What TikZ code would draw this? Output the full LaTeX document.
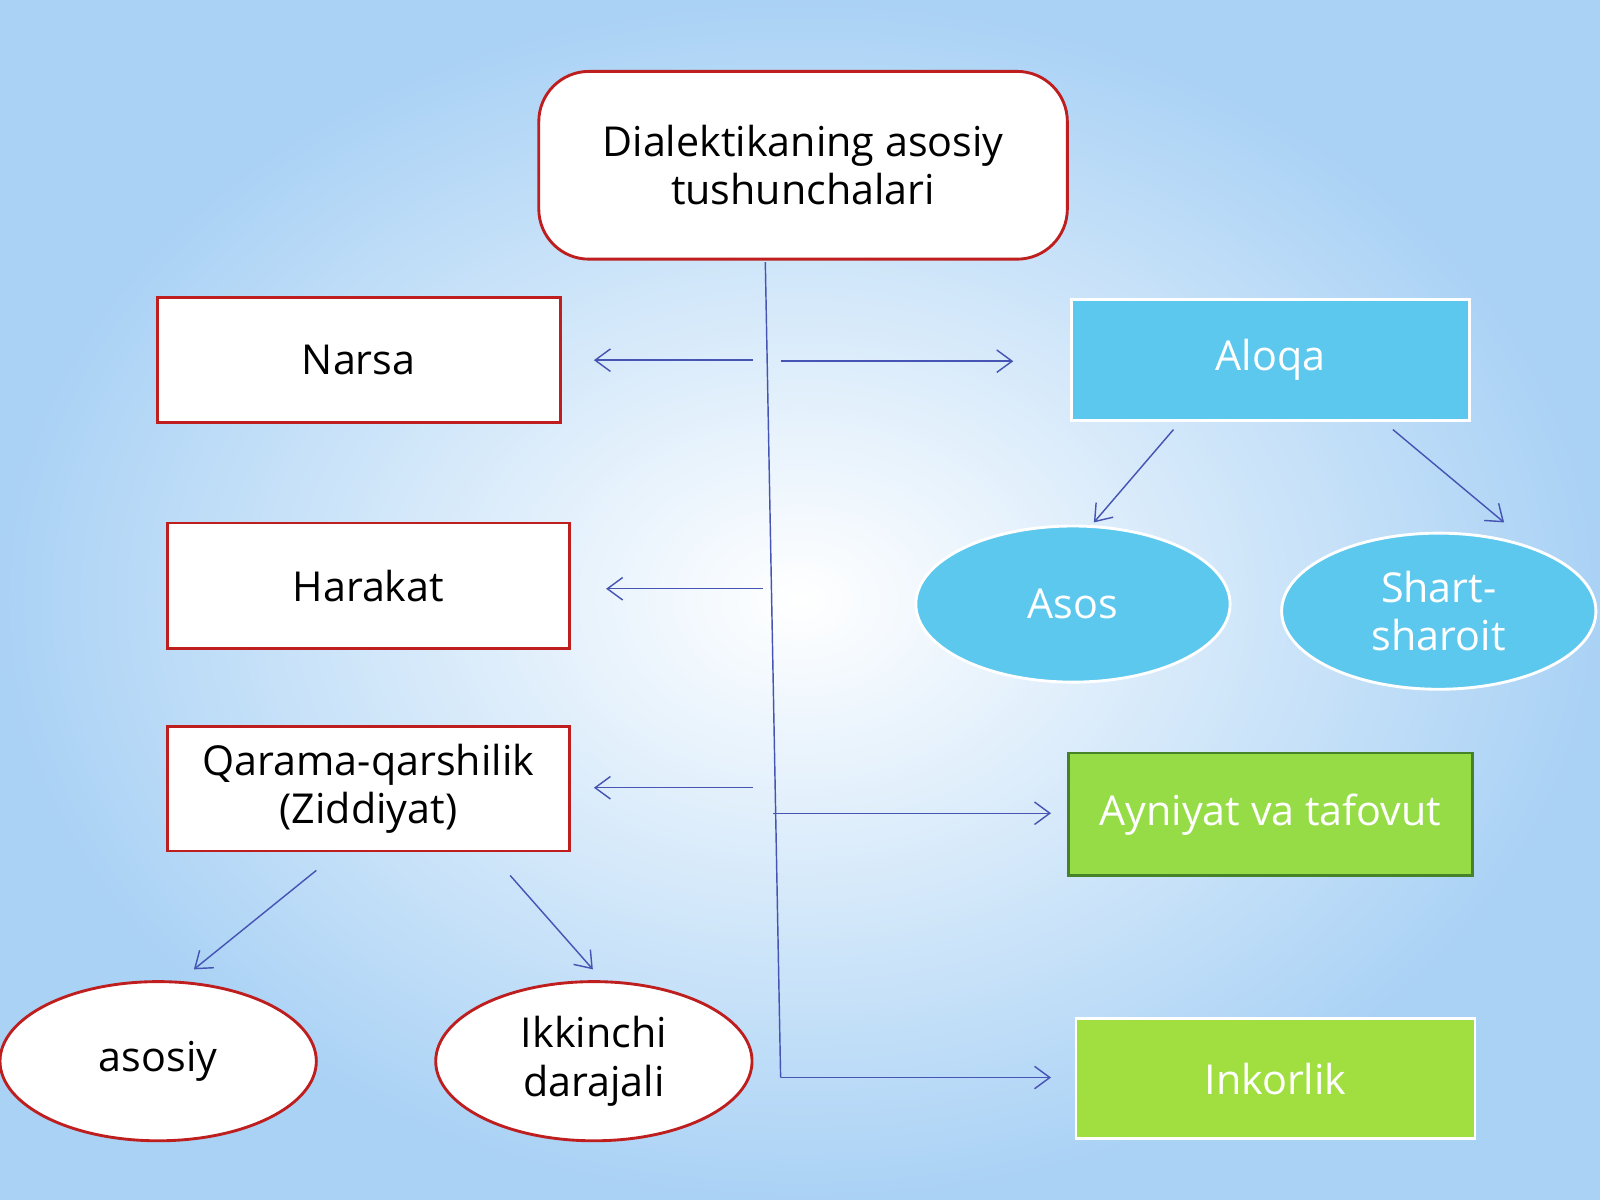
\documentclass[tikz,border=0pt]{standalone}
\usepackage{fontspec}
\setmainfont{Open Sans}
\usetikzlibrary{arrows.meta,shapes.geometric}
\definecolor{linkblue}{RGB}{70,85,180}
\definecolor{boxred}{RGB}{190,30,30}
\definecolor{skyfill}{RGB}{92,200,238}
\definecolor{leaf}{RGB}{150,220,70}
\definecolor{leafdark}{RGB}{70,130,40}
\definecolor{edgesky}{RGB}{170,210,245}

\begin{document}
\begin{tikzpicture}[
            > = {Straight Barb[length=1.5mm,width=2.2mm]}, % arrow head style
            x=1cm, y=1cm,
            font=\fontsize{11.5}{13.5}\selectfont,
            link/.style = {->, draw=linkblue, thin},
            redbox/.style = {draw=boxred, thick, fill=white, align=center, inner sep=1pt},
            redoval/.style = {ellipse, draw=boxred, thick, fill=white, align=center, inner sep=0pt,
                              minimum width=3.1cm, minimum height=1.56cm},
            bluebox/.style = {draw=white, thick, fill=skyfill, text=white,
                              minimum width=3.9cm, minimum height=1.19cm},
            blueoval/.style = {ellipse, draw=white, thick, fill=skyfill, text=white, align=center,
                              inner sep=0pt, minimum width=3.08cm, minimum height=1.53cm},
            greenbox/.style = {fill=leaf, text=white, inner sep=1pt, minimum height=1.2cm}
        ]

        % background
        \shade[inner color=white, outer color=edgesky] (0,0) rectangle (15.68,11.76);
        \useasboundingbox (0,0) rectangle (15.68,11.76);

        % main nodes
        \node[redbox, rounded corners=14pt, minimum width=5.18cm, minimum height=1.84cm]
            (top) at (7.87,10.14) {Dialektikaning asosiy\\tushunchalari};
        \node[redbox, minimum width=3.95cm, minimum height=1.22cm] (narsa) at (3.515,8.23) {Narsa};
        \node[redbox, minimum width=3.94cm, minimum height=1.23cm] (harakat) at (3.61,6.02) {Harakat};
        \node[redbox, minimum width=3.94cm, minimum height=1.22cm] (qarama) at (3.61,4.03)
            {Qarama-qarshilik\\(Ziddiyat)};
        \node[redoval] (asosiy) at (1.55,1.36) {asosiy};
        \node[redoval] (ikkinchi) at (5.82,1.36) {Ikkinchi\\darajali};

        \node[bluebox] (aloqa) at (12.45,8.23) {Aloqa};
        \node[blueoval] (asos) at (10.515,5.84) {Asos};
        \node[blueoval] (shart) at (14.1,5.77) {Shart-\\sharoit};
        \node[greenbox, draw=leafdark, thick, minimum width=3.96cm] (ayniyat) at (12.45,3.78)
            {Ayniyat va tafovut};
        \node[greenbox, fill=leaf!90!yellow, draw=white, thick, minimum width=3.91cm,
              minimum height=1.18cm] (inkorlik) at (12.5,1.19) {Inkorlik};

        % trunk
        \coordinate (t0) at (7.50,9.19);
        \coordinate (t1) at (7.65,1.20);
        \draw[linkblue, thin] (t0) -- (t1);

        % side arrows
        \coordinate (nA) at (7.38,8.23);  \coordinate (nB) at (5.82,8.23);
        \coordinate (aA) at (7.65,8.22);  \coordinate (aB) at (9.93,8.22);
        \coordinate (hA) at (7.48,5.99);  \coordinate (hB) at (5.94,5.99);
        \coordinate (qA) at (7.38,4.04);  \coordinate (qB) at (5.82,4.04);
        \coordinate (yA) at (7.58,3.79);  \coordinate (yB) at (10.30,3.79);
        \coordinate (iB) at (10.30,1.20);
        \draw[link] (nA) -- (nB);
        \draw[link] (aA) -- (aB);
        \draw[link] (hA) -- (hB);
        \draw[link] (qA) -- (qB);
        \draw[link] (yA) -- (yB);
        \draw[link] (t1) -- (iB);

        % branches
        \coordinate (s1) at (11.50,7.55); \coordinate (e1) at (10.72,6.64);
        \coordinate (s2) at (13.65,7.55); \coordinate (e2) at (14.74,6.64);
        \coordinate (s3) at (3.10,3.23);  \coordinate (e3) at (1.90,2.26);
        \coordinate (s4) at (5.00,3.18);  \coordinate (e4) at (5.81,2.26);
        \draw[link] (s1) -- (e1);
        \draw[link] (s2) -- (e2);
        \draw[link] (s3) -- (e3);
        \draw[link] (s4) -- (e4);

\end{tikzpicture}
\end{document}
